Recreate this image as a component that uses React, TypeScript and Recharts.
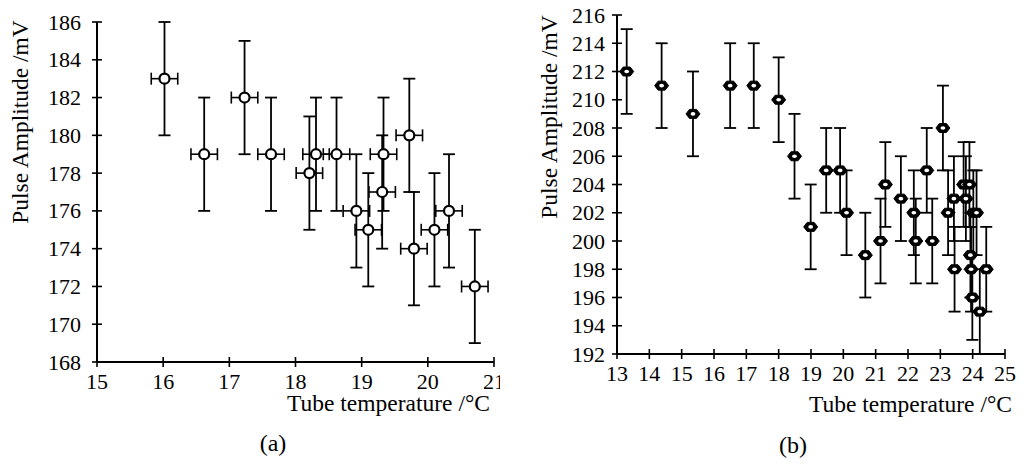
import React from 'react';
import { ScatterChart, Scatter, XAxis, YAxis, ErrorBar, Label } from 'recharts';

// ---------- Data: panel (a) ----------
const tempA = [16.02, 16.62, 17.23, 17.63, 18.21, 18.31, 18.62, 18.92, 19.1, 19.31, 19.33, 19.72, 19.79, 20.1, 20.32, 20.71];
const ampA = [183, 179, 182, 179, 178, 179, 179, 176, 175, 177, 179, 180, 174, 175, 176, 172];
const tempErrA = 0.2;
const ampErrA = 3;
const xTicksA = [15, 16, 17, 18, 19, 20, 21];
const yTicksA = [168, 170, 172, 174, 176, 178, 180, 182, 184, 186];

// ---------- Data: panel (b) ----------
const tempB = [13.3, 14.38, 15.35, 16.5, 17.23, 18.0, 18.49, 18.99, 19.47, 19.9, 20.1, 20.68, 21.15, 21.3, 21.78, 22.18, 22.24, 22.58, 22.75, 23.08, 23.24, 23.42, 23.44, 23.72, 23.9, 23.79, 23.93, 23.95, 23.99, 24.02, 24.12, 24.22, 24.42];
const ampB = [212, 211, 209, 211, 211, 210, 206, 201, 205, 205, 202, 199, 200, 204, 203, 202, 200, 205, 200, 208, 202, 203, 198, 204, 204, 203, 199, 198, 196, 202, 202, 195, 198];
const ampErrB = 3;
const xTicksB = [13, 14, 15, 16, 17, 18, 19, 20, 21, 22, 23, 24, 25];
const yTicksB = [192, 194, 196, 198, 200, 202, 204, 206, 208, 210, 212, 214, 216];

const dataA = tempA.map((t, i) => ({ x: t, y: ampA[i], ex: tempErrA, ey: ampErrA }));
const dataB = tempB.map((t, i) => ({ x: t, y: ampB[i], ey: ampErrB }));

const FONT = "'Liberation Serif', 'DejaVu Serif', serif";
const TICK_FS = 22;
const TITLE_FS = 23.5;

const txtStyle = (size: number): React.CSSProperties => ({ fontFamily: FONT, fontSize: size, fill: '#000' });

const makeXTick = () => (props: any) => {
  const { x, y, payload } = props;
  return (
    <g>
      <line x1={x} x2={x} y1={y - 5} y2={y + 5} stroke="#000" strokeWidth={1.6} />
      <text x={x} y={y + 27} textAnchor="middle" style={txtStyle(TICK_FS)}>
        {payload.value}
      </text>
    </g>
  );
};

const makeYTick = (gap: number) => (props: any) => {
  const { x, y, payload } = props;
  return (
    <g>
      <line x1={x - 5} x2={x + 5} y1={y} y2={y} stroke="#000" strokeWidth={1.6} />
      <text x={x - gap} y={y + 7.5} textAnchor="end" style={txtStyle(TICK_FS)}>
        {payload.value}
      </text>
    </g>
  );
};

const CircleMarker = (props: any) => {
  const { cx, cy } = props;
  return (
    <g>
      <circle cx={cx} cy={cy} r={5} fill="#fff" stroke="#000" strokeWidth={2.2} />
    </g>
  );
};

const HexMarker = (props: any) => {
  const { cx, cy } = props;
  const pts = [
    [cx - 7, cy],
    [cx - 3.5, cy - 4.5],
    [cx + 3.5, cy - 4.5],
    [cx + 7, cy],
    [cx + 3.5, cy + 4.5],
    [cx - 3.5, cy + 4.5],
  ]
    .map((p) => p.join(','))
    .join(' ');
  return (
    <g>
      <polygon points={pts} fill="#000" stroke="#000" strokeWidth={1} />
      <ellipse cx={cx} cy={cy} rx={2.4} ry={1.8} fill="#fff" />
    </g>
  );
};

const textLabel = (x: number, y: number, value: string, anchor: 'start' | 'middle' | 'end', size: number, rotate = false) =>
  () => (
    <text
      x={x}
      y={y}
      textAnchor={anchor}
      style={txtStyle(size)}
      transform={rotate ? `rotate(-90, ${x}, ${y})` : undefined}
    >
      {value}
    </text>
  );

export default function App() {
  return (
    <div style={{ position: 'absolute', left: 0, top: 0, width: 1026, height: 470, background: '#fff' }}>
      <div style={{ position: 'absolute', left: 0, top: 0 }}>
        <ScatterChart width={500} height={470} margin={{ top: 22, right: 6, bottom: 0, left: 0 }}>
          <XAxis
            type="number"
            dataKey="x"
            domain={[15, 21]}
            ticks={xTicksA}
            allowDataOverflow
            height={108}
            tickSize={0}
            tickMargin={0}
            tickLine={false}
            axisLine={{ stroke: '#000', strokeWidth: 2 }}
            tick={makeXTick()}
            interval={0}
          >
            <Label content={textLabel(490, 411, 'Tube temperature /°C', 'end', TITLE_FS)} />
            <Label content={textLabel(273, 451, '(a)', 'middle', 24)} />
          </XAxis>
          <YAxis
            type="number"
            dataKey="y"
            domain={[168, 186]}
            ticks={yTicksA}
            allowDataOverflow
            width={97}
            tickSize={0}
            tickMargin={0}
            tickLine={false}
            axisLine={{ stroke: '#000', strokeWidth: 2 }}
            tick={makeYTick(16)}
            interval={0}
          >
            <Label content={textLabel(28, 122, 'Pulse Amplitude /mV', 'middle', TITLE_FS, true)} />
          </YAxis>
          <Scatter data={dataA} isAnimationActive={false} shape={CircleMarker}>
            <ErrorBar dataKey="ey" direction="y" width={6} stroke="#000" strokeWidth={1.8} />
            <ErrorBar dataKey="ex" direction="x" width={6} stroke="#000" strokeWidth={1.6} />
          </Scatter>
        </ScatterChart>
      </div>
      <div style={{ position: 'absolute', left: 500, top: 0 }}>
        <ScatterChart width={526} height={470} margin={{ top: 15, right: 21, bottom: 0, left: 0 }}>
          <XAxis
            type="number"
            dataKey="x"
            domain={[13, 25]}
            ticks={xTicksB}
            allowDataOverflow
            height={116}
            tickSize={0}
            tickMargin={0}
            tickLine={false}
            axisLine={{ stroke: '#000', strokeWidth: 2 }}
            tick={makeXTick()}
            interval={0}
          >
            <Label content={textLabel(512, 412, 'Tube temperature /°C', 'end', TITLE_FS)} />
            <Label content={textLabel(293, 453, '(b)', 'middle', 24)} />
          </XAxis>
          <YAxis
            type="number"
            dataKey="y"
            domain={[192, 216]}
            ticks={yTicksB}
            allowDataOverflow
            width={117}
            tickSize={0}
            tickMargin={0}
            tickLine={false}
            axisLine={{ stroke: '#000', strokeWidth: 2 }}
            tick={makeYTick(12)}
            interval={0}
          >
            <Label content={textLabel(57, 117, 'Pulse Amplitude /mV', 'middle', TITLE_FS, true)} />
          </YAxis>
          <Scatter data={dataB} isAnimationActive={false} shape={HexMarker}>
            <ErrorBar dataKey="ey" direction="y" width={6} stroke="#000" strokeWidth={1.8} />
          </Scatter>
        </ScatterChart>
      </div>
    </div>
  );
}
